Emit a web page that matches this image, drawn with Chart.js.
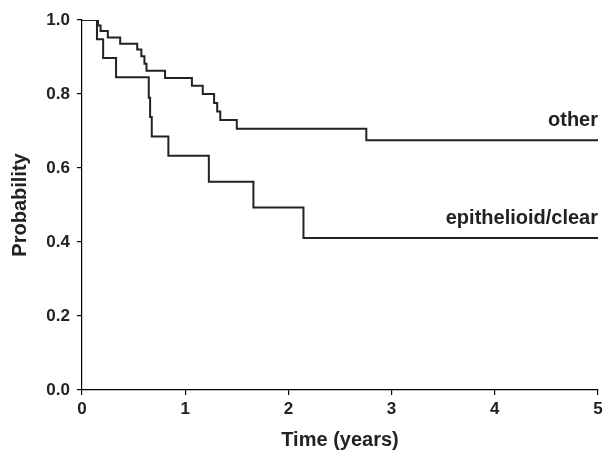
<!DOCTYPE html>
<html>
<head>
<meta charset="utf-8">
<script src="https://cdn.jsdelivr.net/npm/chart.js@4.4.1/dist/chart.umd.min.js"></script>
<style>
    html, body { margin: 0; padding: 0; background: #fff; }
    #wrap { width: 604px; height: 450px; }
</style>
</head>
<body>
<div id="wrap"><canvas id="kmChart" width="604" height="450"></canvas></div>
<script>
// Kaplan-Meier steps (time in years, survival probability)
const otherTimes = [0, 0.155, 0.18, 0.25, 0.37, 0.535, 0.575, 0.605, 0.625, 0.805, 1.065, 1.17, 1.28, 1.31, 1.34, 1.50, 2.755, 5];
const otherSurv = [1.0, 0.985, 0.970, 0.953, 0.936, 0.920, 0.902, 0.882, 0.863, 0.843, 0.822, 0.800, 0.776, 0.753, 0.730, 0.706, 0.675, 0.675];

const epiTimes = [0, 0.145, 0.205, 0.33, 0.647, 0.66, 0.676, 0.837, 1.229, 1.661, 2.146, 5];
const epiSurv = [1.0, 0.948, 0.897, 0.845, 0.790, 0.738, 0.685, 0.633, 0.563, 0.493, 0.411, 0.411];

const seriesLabels = ['other', 'epithelioid/clear'];
const xTicks = [0, 1, 2, 3, 4, 5];
const yTicks = [0, 0.2, 0.4, 0.6, 0.8, 1.0];

const FONT = "'Liberation Sans', Arial, sans-serif";

function toPoints(xs, ys) {
    return xs.map((x, i) => ({ x: x, y: ys[i] }));
}

// writes the group name above the right end of each curve
const endLabels = {
    id: 'endLabels',
    afterDatasetsDraw(chart) {
        const { ctx, scales: { x, y } } = chart;
        ctx.save();
        ctx.font = 'bold 20px ' + FONT;
        ctx.fillStyle = '#222';
        ctx.textAlign = 'right';
        ctx.textBaseline = 'alphabetic';
        chart.data.datasets.forEach(ds => {
            const last = ds.data[ds.data.length - 1];
            ctx.fillText(ds.label, x.getPixelForValue(last.x), y.getPixelForValue(last.y) - 14);
        });
        ctx.restore();
    }
};

const ctx = document.getElementById('kmChart').getContext('2d');
new Chart(ctx, {
    type: 'line',
    data: {
        datasets: [{
            label: seriesLabels[0],
            data: toPoints(otherTimes, otherSurv),
            stepped: 'before',
            borderColor: '#222',
            borderWidth: 2,
            pointRadius: 0,
            fill: false
        }, {
            label: seriesLabels[1],
            data: toPoints(epiTimes, epiSurv),
            stepped: 'before',
            borderColor: '#222',
            borderWidth: 2,
            pointRadius: 0,
            fill: false
        }]
    },
    options: {
        responsive: false,
        animation: false,
        layout: { padding: { top: 20, right: 6, left: 0, bottom: 0 } },
        plugins: {
            legend: { display: false },
            tooltip: { enabled: false }
        },
        scales: {
            x: {
                type: 'linear',
                min: 0,
                max: 5,
                afterFit: scale => {
                    scale.height = 60;
                    scale.paddingRight = 0;
                    scale.paddingLeft = 0;
                },
                afterBuildTicks: scale => { scale.ticks = xTicks.map(v => ({ value: v })); },
                border: { color: '#000', width: 1.2 },
                grid: { drawOnChartArea: false, drawTicks: true, tickLength: 5, color: '#000', lineWidth: 1.2 },
                ticks: {
                    padding: 4,
                    color: '#222',
                    font: { family: FONT, size: 17, weight: 'bold' },
                    callback: v => String(v)
                },
                title: {
                    display: true,
                    text: 'Time (years)',
                    color: '#222',
                    font: { family: FONT, size: 20, weight: 'bold', lineHeight: 1 },
                    padding: { top: 0, bottom: 0 }
                }
            },
            y: {
                type: 'linear',
                min: 0,
                max: 1,
                afterFit: scale => { scale.width = 82; },
                afterBuildTicks: scale => { scale.ticks = yTicks.map(v => ({ value: v })); },
                border: { color: '#000', width: 1.2 },
                grid: { drawOnChartArea: false, drawTicks: true, tickLength: 5, color: '#000', lineWidth: 1.2 },
                ticks: {
                    padding: 7,
                    color: '#222',
                    font: { family: FONT, size: 17, weight: 'bold' },
                    callback: v => v.toFixed(1)
                },
                title: {
                    display: true,
                    text: 'Probability',
                    color: '#222',
                    font: { family: FONT, size: 20, weight: 'bold', lineHeight: 1 },
                    padding: { top: 10, bottom: 0 }
                }
            }
        }
    },
    plugins: [endLabels]
});
</script>
</body>
</html>
